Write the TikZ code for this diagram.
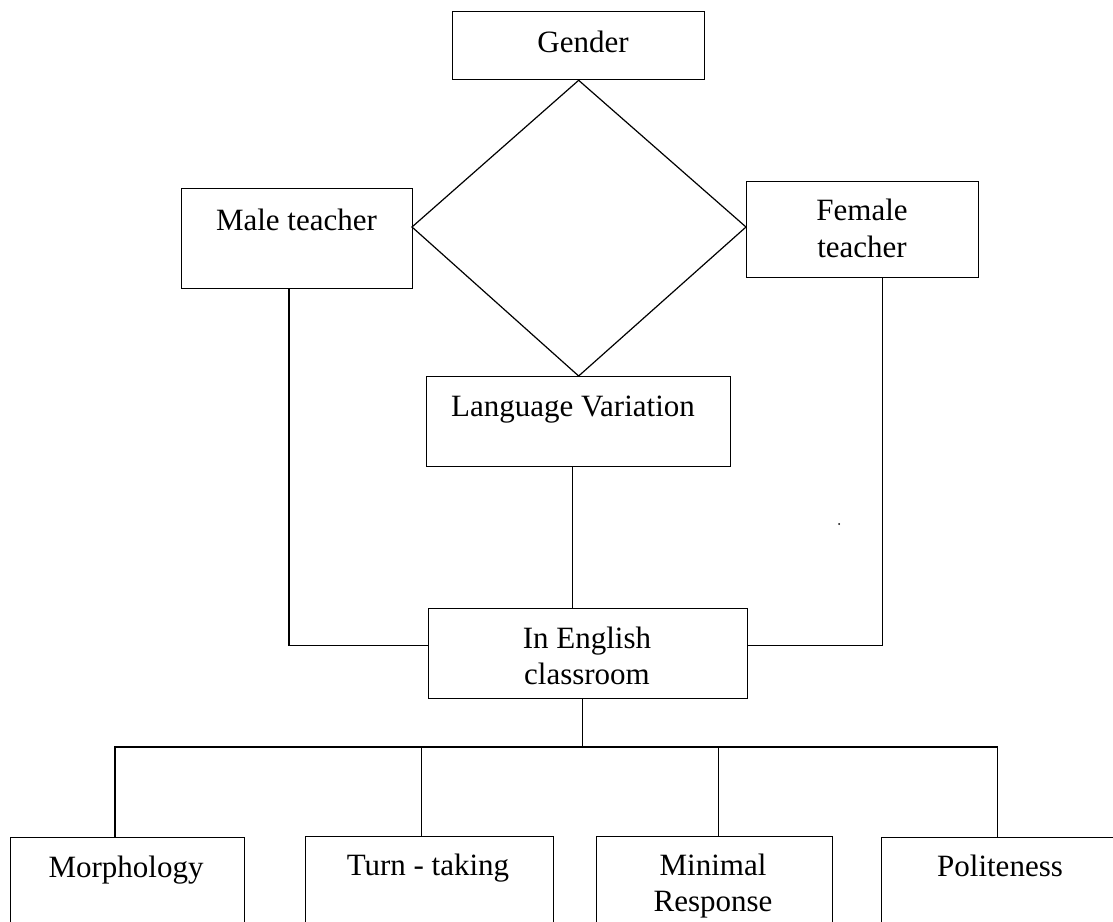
\documentclass[tikz,border=0pt]{standalone}
\usepackage{fontspec}
\setmainfont{Liberation Serif}
\begin{document}
\begin{tikzpicture}[x=1pt,y=-1pt, line width=1.2pt,
  box/.style={draw, rectangle, inner sep=0pt, anchor=north west, line width=1.3pt},
  lbl/.style={anchor=base, inner sep=0pt, font=\fontsize{31}{37}\selectfont},
  link/.style={draw, line width=1.2pt}]
\useasboundingbox (0,0) rectangle (1113,921);
\clip (0,0) rectangle (1113,921);
\fill[white] (0,0) rectangle (1113,921);

% boxes
\node[box, minimum width=252pt, minimum height=68pt] (gender) at (452,11) {};
\node[box, minimum width=231pt, minimum height=100pt] (male) at (181,188) {};
\node[box, minimum width=232pt, minimum height=96pt] (female) at (746,181) {};
\node[box, minimum width=304pt, minimum height=90pt] (lv) at (426,376) {};
\node[box, minimum width=319pt, minimum height=90pt] (ie) at (428,608) {};
\node[box, minimum width=234pt, minimum height=130pt] (morph) at (10,837) {};
\node[box, minimum width=248pt, minimum height=130pt] (turn) at (305,836) {};
\node[box, minimum width=236pt, minimum height=130pt] (minr) at (596,836) {};
\node[box, minimum width=240pt, minimum height=130pt] (pol) at (881,837) {};

% texts
\node[lbl] (tgender) at (583,52) {Gender};
\node[lbl] (tmale) at (296.5,230) {Male teacher};
\node[lbl] (tfem1) at (862,220) {Female};
\node[lbl] (tfem2) at (862,257) {teacher};
\node[lbl] (tlv) at (573,416.5) {Language Variation};
\node[lbl] (tie1) at (587,648) {In English};
\node[lbl] (tie2) at (587,684) {classroom};
\node[lbl] (tmorph) at (126,877.5) {Morphology};
\node[lbl] (tturn) at (428,875.5) {Turn - taking};
\node[lbl] (tmin1) at (713,875) {Minimal};
\node[lbl] (tmin2) at (713,911.5) {Response};
\node[lbl] (tpol) at (1000,876.5) {Politeness};

% diamond
\coordinate (dl) at (412,227);
\coordinate (dr) at (746,227);
\draw[line width=1.2pt, line join=miter] (gender.south) -- (dl) -- (lv.north) -- (dr) -- cycle;

% connectors
\coordinate (mdown) at ([xshift=108pt]male.south west);
\coordinate (ieL) at ([yshift=8pt]ie.west);
\draw[link] (mdown) |- (ieL);
\coordinate (fdown) at ([xshift=19.5pt]female.south);
\coordinate (ieR) at ([yshift=8.5pt]ie.east);
\draw[link] (fdown) |- (ieR);
\coordinate (lvdown) at ([xshift=-6pt]lv.south);
\draw[link] (lvdown) -- (lvdown |- ie.north);
\coordinate (iedown) at ([xshift=-5.5pt]ie.south);
\coordinate (bus) at (582,747);
\draw[link] (iedown) -- (iedown |- bus);
\coordinate (c1) at ([xshift=-12.7pt]morph.north);
\coordinate (c2) at ([xshift=-8.3pt]turn.north);
\coordinate (c3) at ([xshift=3.7pt]minr.north);
\coordinate (c4) at ([xshift=-4pt]pol.north);
\draw[link] (c1) -- (c1 |- bus) -- (c4 |- bus) -- (c4);
\draw[link] (c2) -- (c2 |- bus);
\draw[link] (c3) -- (c3 |- bus);

% stray speck
\coordinate (speck) at (839,524);
\fill (speck) circle (1pt);
\end{tikzpicture}
\end{document}
